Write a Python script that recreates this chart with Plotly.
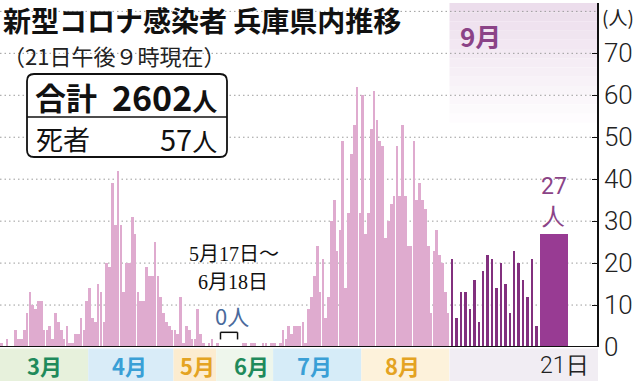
import pandas as pd
import plotly.graph_objects as go

# ---------------- data (daily new cases) ----------------
march = [1, 0, 2, 0, 0, 4, 2, 2, 4, 8, 13, 10, 9, 11, 11, 4, 4, 5, 2, 8,
         6, 4, 2, 5, 1, 1, 3, 3, 7, 4, 11]
april = [14, 7, 6, 15, 13, 6, 20, 19, 39, 29, 42, 29, 13, 20, 20, 31, 27, 13, 11, 11,
         19, 17, 17, 25, 17, 12, 8, 6, 5, 4]
may = [4, 3, 12, 1, 5, 4, 2, 2, 9, 3, 1, 0, 1, 2, 0, 1,
       0, 0, 0, 0, 0, 0, 0, 0, 0, 0, 0, 0, 0, 0, 0]
june = [0, 0, 0, 0, 0, 0, 0, 0, 0, 0, 0, 0, 0, 0, 0, 0, 0, 0,
        0, 1, 1, 0, 1, 1, 0, 0, 1, 1, 0, 1]
july = [1, 0, 1, 4, 2, 5, 3, 5, 5, 5, 6, 1, 9, 12, 17, 24, 13, 21, 7, 12,
        30, 35, 23, 28, 49, 14, 32, 46, 53, 62, 32]
august = [60, 27, 32, 52, 61, 54, 49, 48, 26, 30, 34, 36, 48, 36, 53, 36, 24, 24, 49, 35,
          39, 35, 33, 24, 8, 23, 28, 22, 20, 13, 8]
september = [21, 7, 13, 13, 9, 16, 6, 18, 22, 21, 14, 20, 15, 8, 23, 20, 16, 12, 21, 5]
sept_days = list(range(1, 21))
today_day = [21]
today_value = [27]

start_date = "2020-03-01"
end_date = "2020-08-31"
zero_from, zero_to = "2020-05-17", "2020-06-18"

month_labels = ["3月", "4月", "5月", "6月", "7月", "8月"]
month_label_dates = ["2020-03-16", "2020-04-15", "2020-05-09", "2020-06-23", "2020-07-15", "2020-08-15"]
month_band_edges = ["2020-02-29 12:00", "2020-03-31 12:00", "2020-04-30 12:00", "2020-05-15 12:00",
                    "2020-06-30 12:00", "2020-07-31 12:00", "2020-08-31 12:00"]
month_text_colors = ["#1f8a5b", "#3a9fd6", "#e4a322", "#1f8a5b", "#3a9fd6", "#e4a322"]
month_band_colors = ["#e7f1dc", "#d9ecf8", "#fcecd0", "#eef6ec", "#d6ecf8", "#fdf2db"]

ytick_vals = [0, 10, 20, 30, 40, 50, 60, 70]
ytick_text = ["0", "10", "20", "30", "40", "50", "60", "70"]
grid_vals = [10, 20, 30, 40, 50, 60, 70, 80]

dates = pd.date_range(start_date, end_date, freq="D")
values = march + april + may + june + july + august

# ---------------- geometry helpers ----------------
W, H = 639, 381
ML, MR, MT, MB = 0, 41, 3, 34
PW = W - ML - MR
PH = H - MT - MB


def px(x):
    return (x - ML) / PW


def py(y):
    return (H - MB - y) / PH


SEPT_L, SEPT_R = 449.5, 538.0
TODAY_L, TODAY_R = 540.0, 568.0

PINK = "#dfabcf"
PURPLE = "#82307e"
PURPLE2 = "#983b93"
LABEL_PURPLE = "#8b4387"
NUM_FONT = "Roboto, sans-serif"
JP_FONT = "Noto Sans CJK JP, sans-serif"

fig = go.Figure()
fig.add_trace(go.Bar(x=dates, y=values, marker=dict(color=PINK, line=dict(width=0)),
                     width=0.94 * 86400000, xaxis="x", yaxis="y", hoverinfo="skip"))
fig.add_trace(go.Bar(x=sept_days, y=september, marker=dict(color=PURPLE, line=dict(width=0)),
                     width=0.55, xaxis="x2", yaxis="y", hoverinfo="skip"))
fig.add_trace(go.Bar(x=today_day, y=today_value, marker=dict(color=PURPLE2, line=dict(width=0)),
                     width=1.0, xaxis="x3", yaxis="y", hoverinfo="skip"))

shapes = []
# September top gradient box
n_strips = 14
top_y, bot_y = 3.0, 132.0
c0 = (236, 221, 236)
for i in range(n_strips):
    t = i / (n_strips - 1)
    col = tuple(int(round(c0[k] + (255 - c0[k]) * t)) for k in range(3))
    y0 = top_y + (bot_y - top_y) * i / n_strips
    y1 = top_y + (bot_y - top_y) * (i + 1) / n_strips
    shapes.append(dict(type="rect", xref="paper", yref="paper", x0=px(SEPT_L), x1=1.0,
                       y0=py(y1), y1=py(y0), fillcolor="rgb(%d,%d,%d)" % col,
                       line=dict(width=0), layer="below"))
# dotted gridlines
for v in grid_vals:
    shapes.append(dict(type="line", xref="paper", yref="y", x0=0, x1=1, y0=v, y1=v,
                       line=dict(color="#9c9c9c", width=1, dash="1.5px,3px"), layer="below"))
# month bands below the axis
for i in range(len(month_labels)):
    shapes.append(dict(type="rect", xref="x", yref="paper",
                       x0=month_band_edges[i], x1=month_band_edges[i + 1],
                       y0=py(381), y1=py(348.5), fillcolor=month_band_colors[i],
                       line=dict(width=0), layer="above"))
shapes.append(dict(type="rect", xref="paper", yref="paper", x0=px(SEPT_L), x1=1.0,
                   y0=py(381), y1=py(348.5), fillcolor="#f1edf3", line=dict(width=0), layer="above"))
# baseline
shapes.append(dict(type="line", xref="paper", yref="y", x0=0, x1=1, y0=0, y1=0,
                   line=dict(color="#111", width=2), layer="above"))
# bracket for the zero period
shapes.append(dict(type="line", xref="x", yref="y", x0=zero_from, x1=zero_from, y0=1.8, y1=3.5,
                   line=dict(color="#111", width=1.5), layer="above"))
shapes.append(dict(type="line", xref="x", yref="y", x0=zero_from, x1=zero_to, y0=3.5, y1=3.5,
                   line=dict(color="#111", width=1.5), layer="above"))
shapes.append(dict(type="line", xref="x", yref="y", x0=zero_to, x1=zero_to, y0=1.8, y1=3.5,
                   line=dict(color="#111", width=1.5), layer="above"))
# summary box with rounded corners
bx0, bx1, by0, by1, r = 27, 227, 74, 157, 7
path = ("M {a},{b} L {c},{b} Q {d},{b} {d},{e} L {d},{f} Q {d},{g} {c},{g} "
        "L {a},{g} Q {h},{g} {h},{f} L {h},{e} Q {h},{b} {a},{b} Z").format(
    a=px(bx0 + r), b=py(by0), c=px(bx1 - r), d=px(bx1), e=py(by0 + r),
    f=py(by1 - r), g=py(by1), h=px(bx0))
shapes.append(dict(type="path", xref="paper", yref="paper", path=path,
                   fillcolor="white", line=dict(color="#111", width=1.8), layer="above"))
shapes.append(dict(type="line", xref="paper", yref="paper", x0=px(bx0), x1=px(bx1),
                   y0=py(117), y1=py(117), line=dict(color="#111", width=1.5), layer="above"))

ann = []


def text(x, y, s, size, color="#111", xanchor="left", family=JP_FONT, weight="normal", **kw):
    d = dict(xref="paper", yref="paper", x=px(x), y=py(y), text=s, showarrow=False,
             xanchor=xanchor, yanchor="middle",
             font=dict(size=size, color=color, family=family, weight=weight))
    d.update(kw)
    ann.append(d)


text(1, 20.5, "新型コロナ感染者 兵庫県内推移", 28, weight="bold")
text(1, 55, "（21日午後９時現在）", 22, color="#222")
text(33, 96, "合計", 31, weight="bold")
text(219, 96, "2602<span style='font-size:25px'>人</span>", 34, weight="bold", xanchor="right")
text(34, 138, "死者", 27)
text(219, 138, "57<span style='font-size:25px'>人</span>", 29, xanchor="right")
text(480, 35, "9月", 26, color=LABEL_PURPLE, xanchor="center", weight="bold")
text(600, 17, "(人)", 19, color="#222")
text(234, 254, "5月17日～", 20, xanchor="center", family="Liberation Serif, Noto Sans CJK JP, serif")
text(233, 282, "6月18日", 20, xanchor="center", family="Liberation Serif, Noto Sans CJK JP, serif")
text(232, 315, "0人", 22, color="#4a6a9c", xanchor="center")

for lab, d, c in zip(month_labels, month_label_dates, month_text_colors):
    ann.append(dict(xref="x", yref="paper", x=d, y=py(365), text=lab, showarrow=False,
                    xanchor="center", yanchor="middle",
                    font=dict(size=22, color=c, family=JP_FONT, weight="bold")))
ann.append(dict(xref="x3", yref="paper", x=today_day[0], y=py(365), text="21日", showarrow=False,
                xanchor="center", yanchor="middle", xshift=10,
                font=dict(size=23, color="#222", family=NUM_FONT, weight=300)))
ann.append(dict(xref="x3", yref="y", x=today_day[0], y=today_value[0], text="27<br>人",
                showarrow=False, xanchor="center", yanchor="bottom", yshift=2,
                font=dict(size=23, color=LABEL_PURPLE, family=NUM_FONT)))

fig.update_layout(
    width=W, height=H, margin=dict(l=ML, r=MR, t=MT, b=MB),
    paper_bgcolor="white", plot_bgcolor="white", showlegend=False, bargap=0,
    xaxis=dict(type="date", domain=[0, px(SEPT_L)], range=["2020-02-29 12:00", "2020-08-31 12:00"],
               rangebreaks=[dict(bounds=["2020-05-20", "2020-06-15"])],
               showticklabels=False, showgrid=False, zeroline=False, showline=False, ticks=""),
    xaxis2=dict(domain=[px(SEPT_L), px(SEPT_R)], range=[0.5, 20.5], anchor="y", visible=False),
    xaxis3=dict(domain=[px(TODAY_L), px(TODAY_R)], range=[20.5, 21.5], anchor="y", visible=False),
    yaxis=dict(range=[0, 82], anchor="free", position=1.0, side="right",
               tickvals=ytick_vals, ticktext=ytick_text, showgrid=False, zeroline=False,
               showline=True, linecolor="#111", linewidth=1.5, ticks="inside", ticklen=5,
               tickcolor="#111", tickfont=dict(size=26, color="#222", family=NUM_FONT, weight=300)),
    shapes=shapes, annotations=ann,
)

fig.write_html("out.html", config={"displayModeBar": False},
               post_script="document.body.style.margin='0';document.body.style.padding='0';")
